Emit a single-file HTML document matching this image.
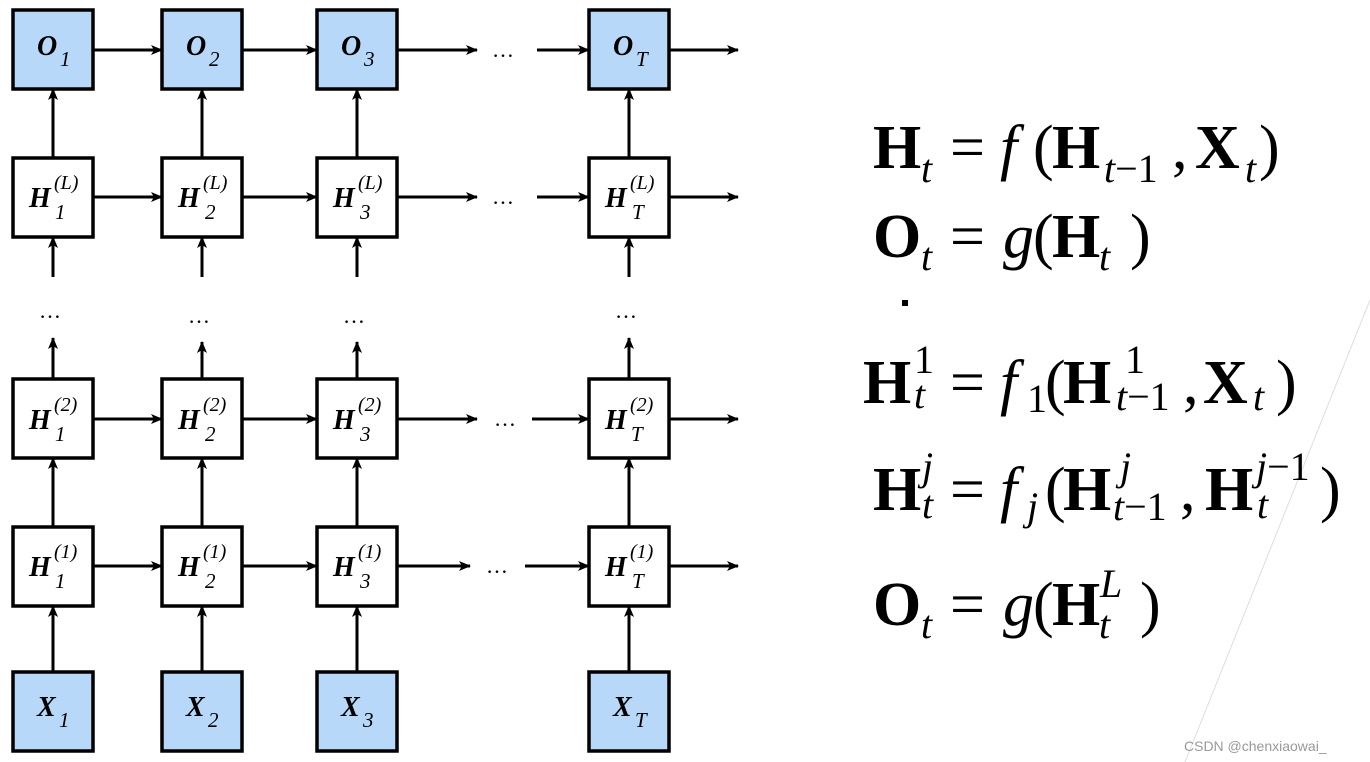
<!DOCTYPE html>
<html><head><meta charset="utf-8"><style>
html,body{margin:0;padding:0;background:#fff;}
svg{display:block;}
.b{font-family:"Liberation Serif",serif;font-weight:bold;font-style:italic;font-size:28px;}
.s{font-family:"Liberation Serif",serif;font-style:italic;font-size:21px;}
.sp{font-family:"Liberation Serif",serif;font-style:italic;font-size:20px;}
.e{font-family:"Liberation Serif",serif;font-size:62px;}
.eb{font-family:"Liberation Serif",serif;font-size:62px;font-weight:bold;}
.ei{font-family:"Liberation Serif",serif;font-size:62px;font-style:italic;}
.es{font-family:"Liberation Serif",serif;font-size:40px;font-style:italic;}
.en{font-family:"Liberation Serif",serif;font-size:40px;}
.dots{font-family:"Liberation Serif",serif;font-size:22px;}
</style></head><body>
<svg width="1370" height="762" viewBox="0 0 1370 762" xmlns="http://www.w3.org/2000/svg">
<defs><marker id="a" viewBox="0 0 12 10" refX="11" refY="5" markerWidth="12" markerHeight="10" markerUnits="userSpaceOnUse" orient="auto"><path d="M0,0 L12,5 L0,10 L3,5 z" fill="#000"/></marker></defs>
<line x1="1370" y1="300" x2="1185" y2="762" stroke="#ddd" stroke-width="1"/>
<g stroke="#000" stroke-width="3" fill="none" marker-end="url(#a)">
<!-- horizontal rows -->
<line x1="93" y1="50" x2="162" y2="50"/><line x1="242" y1="50" x2="317" y2="50"/><line x1="397" y1="50" x2="477" y2="50"/><line x1="537" y1="50" x2="589" y2="50"/><line x1="669" y1="50" x2="738" y2="50"/>
<line x1="93" y1="197" x2="162" y2="197"/><line x1="242" y1="197" x2="317" y2="197"/><line x1="397" y1="197" x2="477" y2="197"/><line x1="537" y1="197" x2="589" y2="197"/><line x1="669" y1="197" x2="738" y2="197"/>
<line x1="93" y1="419" x2="162" y2="419"/><line x1="242" y1="419" x2="317" y2="419"/><line x1="397" y1="419" x2="477" y2="419"/><line x1="532" y1="419" x2="589" y2="419"/><line x1="669" y1="419" x2="738" y2="419"/>
<line x1="93" y1="566" x2="162" y2="566"/><line x1="242" y1="566" x2="317" y2="566"/><line x1="397" y1="566" x2="470" y2="566"/><line x1="525" y1="566" x2="589" y2="566"/><line x1="669" y1="566" x2="738" y2="566"/>
<!-- vertical -->
<line x1="53" y1="158" x2="53" y2="89"/><line x1="202" y1="158" x2="202" y2="89"/><line x1="357" y1="158" x2="357" y2="89"/><line x1="629" y1="158" x2="629" y2="89"/>
<line x1="53" y1="277" x2="53" y2="237"/><line x1="202" y1="277" x2="202" y2="237"/><line x1="357" y1="277" x2="357" y2="237"/><line x1="629" y1="277" x2="629" y2="237"/>
<line x1="53" y1="379" x2="53" y2="338"/><line x1="202" y1="379" x2="202" y2="342"/><line x1="357" y1="379" x2="357" y2="342"/><line x1="629" y1="379" x2="629" y2="338"/>
<line x1="53" y1="527" x2="53" y2="458"/><line x1="202" y1="527" x2="202" y2="458"/><line x1="357" y1="527" x2="357" y2="458"/><line x1="629" y1="527" x2="629" y2="458"/>
<line x1="53" y1="672" x2="53" y2="606"/><line x1="202" y1="672" x2="202" y2="606"/><line x1="357" y1="672" x2="357" y2="606"/><line x1="629" y1="672" x2="629" y2="606"/>
</g>
<g stroke="#000" stroke-width="3.5">
<g fill="#b7d8f8">
<rect x="13" y="10" width="80" height="79"/><rect x="162" y="10" width="80" height="79"/><rect x="317" y="10" width="80" height="79"/><rect x="589" y="10" width="80" height="79"/>
<rect x="13" y="672" width="80" height="79"/><rect x="162" y="672" width="80" height="79"/><rect x="317" y="672" width="80" height="79"/><rect x="589" y="672" width="80" height="79"/>
</g>
<g fill="#fff">
<rect x="13" y="158" width="80" height="79"/><rect x="162" y="158" width="80" height="79"/><rect x="317" y="158" width="80" height="79"/><rect x="589" y="158" width="80" height="79"/>
<rect x="13" y="379" width="80" height="79"/><rect x="162" y="379" width="80" height="79"/><rect x="317" y="379" width="80" height="79"/><rect x="589" y="379" width="80" height="79"/>
<rect x="13" y="527" width="80" height="79"/><rect x="162" y="527" width="80" height="79"/><rect x="317" y="527" width="80" height="79"/><rect x="589" y="527" width="80" height="79"/>
</g>
</g>
<!-- O labels -->
<text class="b" x="37" y="55">O</text><text class="s" x="60" y="66">1</text>
<text class="b" x="186" y="55">O</text><text class="s" x="209" y="66">2</text>
<text class="b" x="341" y="55">O</text><text class="s" x="364" y="66">3</text>
<text class="b" x="613" y="55">O</text><text class="s" x="636" y="66">T</text>
<!-- X labels -->
<text class="b" x="37" y="716">X</text><text class="s" x="59" y="727">1</text>
<text class="b" x="186" y="716">X</text><text class="s" x="208" y="727">2</text>
<text class="b" x="341" y="716">X</text><text class="s" x="363" y="727">3</text>
<text class="b" x="613" y="716">X</text><text class="s" x="635" y="727">T</text>
<!-- H(L) -->
<g>
<text class="b" x="29" y="207">H</text><text class="sp" x="54" y="189">(L)</text><text class="s" x="55" y="219">1</text>
<text class="b" x="178" y="207">H</text><text class="sp" x="203" y="189">(L)</text><text class="s" x="205" y="219">2</text>
<text class="b" x="333" y="207">H</text><text class="sp" x="358" y="189">(L)</text><text class="s" x="360" y="219">3</text>
<text class="b" x="605" y="207">H</text><text class="sp" x="630" y="189">(L)</text><text class="s" x="632" y="219">T</text>
</g>
<g>
<text class="b" x="29" y="429">H</text><text class="sp" x="54" y="411">(2)</text><text class="s" x="55" y="441" font-style="normal">1</text>
<text class="b" x="178" y="429">H</text><text class="sp" x="203" y="411">(2)</text><text class="s" x="205" y="441">2</text>
<text class="b" x="333" y="429">H</text><text class="sp" x="358" y="411">(2)</text><text class="s" x="360" y="441">3</text>
<text class="b" x="605" y="429">H</text><text class="sp" x="630" y="411">(2)</text><text class="s" x="631" y="441" font-style="normal">T</text>
</g>
<g>
<text class="b" x="29" y="576">H</text><text class="sp" x="54" y="558">(1)</text><text class="s" x="55" y="588">1</text>
<text class="b" x="178" y="576">H</text><text class="sp" x="203" y="558">(1)</text><text class="s" x="205" y="588">2</text>
<text class="b" x="333" y="576">H</text><text class="sp" x="358" y="558">(1)</text><text class="s" x="360" y="588">3</text>
<text class="b" x="605" y="576">H</text><text class="sp" x="630" y="558">(1)</text><text class="s" x="632" y="588">T</text>
</g>
<!-- dots -->
<g class="dots">
<text x="39" y="318">…</text><text x="188" y="323">…</text><text x="343" y="323">…</text><text x="615" y="318">…</text>
<text x="492" y="57">…</text><text x="492" y="204">…</text><text x="494" y="426">…</text><text x="486" y="573">…</text>
</g>
<!-- equations -->
<text class="eb" x="873" y="168">H</text><text class="es" x="921" y="182">t</text><text class="e" x="950" y="168">=</text><text class="ei" x="1000" y="168">f</text><text class="e" x="1033" y="168">(</text><text class="eb" x="1052" y="168">H</text><text class="es" x="1104" y="182">t<tspan font-style="normal">−1</tspan></text><text class="e" x="1172" y="168">,</text><text class="eb" x="1195" y="168">X</text><text class="es" x="1245" y="182">t</text><text class="e" x="1259" y="168">)</text>

<text class="eb" x="873" y="257">O</text><text class="es" x="921" y="270">t</text><text class="e" x="950" y="257">=</text><text class="ei" x="1003" y="257">g</text><text class="e" x="1033" y="257">(</text><text class="eb" x="1052" y="257">H</text><text class="es" x="1099" y="270">t</text><text class="e" x="1130" y="257">)</text>

<rect x="902" y="300" width="6" height="6" fill="#000"/>

<text class="eb" x="863" y="403">H</text><text class="en" x="914" y="373">1</text><text class="es" x="914" y="408">t</text><text class="e" x="950" y="403">=</text><text class="ei" x="1000" y="403">f</text><text class="en" x="1027" y="412">1</text><text class="e" x="1045" y="403">(</text><text class="eb" x="1063" y="403">H</text><text class="en" x="1125" y="373">1</text><text class="es" x="1116" y="410">t<tspan font-style="normal">−1</tspan></text><text class="e" x="1183" y="403">,</text><text class="eb" x="1203" y="403">X</text><text class="es" x="1253" y="410">t</text><text class="e" x="1276" y="403">)</text>

<text class="eb" x="873" y="510">H</text><text class="es" x="922" y="480">j</text><text class="es" x="922" y="518">t</text><text class="e" x="950" y="510">=</text><text class="ei" x="1000" y="510">f</text><text class="es" x="1027" y="520">j</text><text class="e" x="1045" y="510">(</text><text class="eb" x="1063" y="510">H</text><text class="es" x="1120" y="480">j</text><text class="es" x="1113" y="520">t<tspan font-style="normal">−1</tspan></text><text class="e" x="1180" y="510">,</text><text class="eb" x="1205" y="510">H</text><text class="es" x="1256" y="480">j<tspan font-style="normal">−1</tspan></text><text class="es" x="1257" y="518">t</text><text class="e" x="1320" y="510">)</text>

<text class="eb" x="873" y="625">O</text><text class="es" x="921" y="638">t</text><text class="e" x="950" y="625">=</text><text class="ei" x="1003" y="625">g</text><text class="e" x="1033" y="625">(</text><text class="eb" x="1052" y="625">H</text><text class="es" x="1100" y="597">L</text><text class="es" x="1099" y="638">t</text><text class="e" x="1140" y="625">)</text>

<text x="1184" y="751" font-family="Liberation Sans, sans-serif" font-size="14" fill="#999">CSDN @chenxiaowai_</text>
</svg>
</body></html>
